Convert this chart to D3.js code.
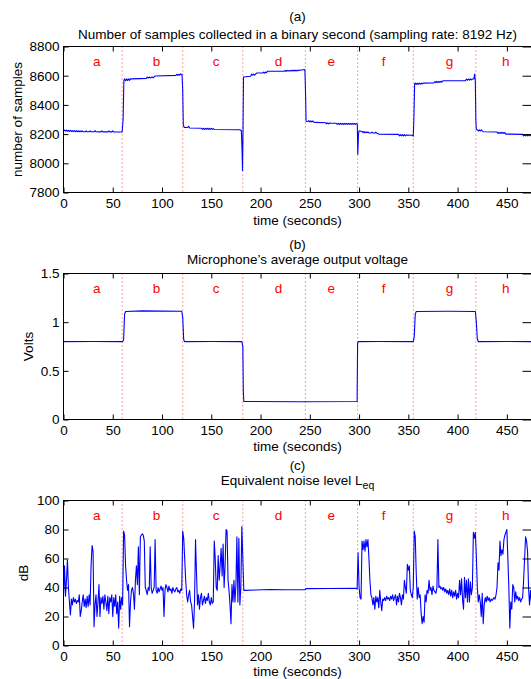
<!DOCTYPE html>
<html>
<head>
<meta charset="utf-8">
<script src="https://cdn.jsdelivr.net/npm/d3@7"></script>
<style>
  body { margin: 0; background: #fff; }
  svg text { font-family: "Liberation Sans", Arial, Helvetica, sans-serif; font-size: 13.5px; fill: #000; }
</style>
</head>
<body>
<svg id="chart" width="531" height="679"></svg>
<script>
// ---- data ----
const xTicks = [0, 50, 100, 150, 200, 250, 300, 350, 400, 450];
const regionEdges = [59.5, 121, 182, 245.5, 298.5, 355, 418.5];
const regionLetters = ["a", "b", "c", "d", "e", "f", "g", "h"];
const letterPos = [30, 90.5, 151.5, 214.5, 268, 323, 388, 445];

const samplesTicks = [7800, 8000, 8200, 8400, 8600, 8800];
const voltTicks = [0, 0.5, 1, 1.5];
const dbTicks = [0, 20, 40, 60, 80, 100];

// (a) samples per binary second, [time, count]
const samplesData = [
  [0,8222],[1,8228],[2,8221],[3,8227],[4,8219],[5,8226],[6,8218],[7,8225],[8,8218],[9,8224],
  [10,8217],[11,8224],[12,8217],[13,8223],[14,8216],[15,8223],[16,8216],[17,8222],[18,8216],[19,8222],
  [20,8216],[22,8216],[23,8222],[24,8216],[26,8216],[27,8222],[28,8216],[31,8216],[32,8223],[33,8216],
  [38,8215],[39,8222],[40,8215],[45,8215],[46,8222],[47,8215],[49,8215],[50,8222],[51,8214],[59.5,8214],
  [60.5,8300],[61.3,8565],[62,8578],[63,8566],[64,8578],[65,8567],[66,8578],[67,8568],[68,8578],[70,8578],
  [84,8582],[85,8591],[86,8584],[87,8591],[88,8585],[90,8591],[91,8586],[92,8592],[93,8598],[114,8602],
  [115,8610],[116,8602],[117,8610],[118,8604],[119,8612],[120.3,8606],[121,8500],[121.6,8262],[122.5,8246],[126,8245],
  [127,8254],[128,8242],[140,8240],[141,8232],[142,8240],[143,8232],[144,8240],[145,8232],[146,8240],[147,8232],
  [148,8240],[149,8232],[150,8240],[151,8232],[152,8238],[153,8232],[179,8230],[180.5,8223],[181.2,8100],[181.7,7950],
  [182.3,8300],[182.7,8591],[190,8596],[191,8611],[192,8603],[193,8611],[194,8604],[195,8611],[196,8618],[202,8618],
  [203,8625],[204,8618],[205,8625],[206,8620],[207,8630],[224,8630],[225,8637],[226,8630],[227,8637],[228,8631],
  [229,8637],[230,8631],[231,8637],[232,8632],[233,8638],[234,8632],[235,8638],[236,8632],[237,8638],[238,8633],
  [239,8639],[240,8637],[245,8642],[245.6,8500],[246.2,8288],[248,8286],[249,8292],[250,8284],[251,8291],[252,8283],
  [253,8290],[254,8282],[256,8280],[266,8278],[267,8270],[268,8277],[269,8270],[270,8276],[271,8274],[277,8274],
  [278,8267],[279,8274],[280,8267],[281,8274],[282,8267],[283,8274],[284,8267],[285,8274],[286,8267],[287,8274],
  [288,8267],[289,8274],[290,8267],[291,8274],[292,8267],[293,8274],[294,8267],[295,8274],[296,8267],[297,8273],
  [298.2,8268],[298.7,8062],[299.4,8200],[300,8223],[303,8218],[304,8210],[305,8217],[306,8209],[307,8216],[308,8209],
  [309,8215],[310,8208],[312,8208],[313,8214],[314,8208],[316,8207],[317,8213],[318,8206],[320,8200],[340,8198],
  [341,8188],[342,8196],[343,8188],[344,8196],[345,8188],[346,8196],[347,8188],[348,8194],[354,8192],[355,8186],
  [355.6,8300],[356.4,8545],[357,8549],[358,8540],[359,8549],[360,8541],[361,8549],[362,8542],[363,8549],[364,8543],
  [365,8549],[376,8550],[377,8560],[378,8553],[379,8561],[380,8553],[381,8561],[382,8554],[383,8562],[384,8555],
  [385,8565],[408,8566],[409,8577],[410,8569],[411,8577],[412,8570],[413,8578],[414,8571],[415,8577],[416.5,8578],
  [417.3,8611],[418,8560],[418.5,8300],[419,8232],[420,8230],[421,8221],[422,8229],[423,8221],[424,8229],[425,8222],
  [426,8216],[440,8214],[441,8205],[442,8212],[443,8205],[444,8212],[445,8205],[446,8212],[447,8205],[448,8211],
  [449,8200],[466,8198],[467,8188],[468,8196],[469,8188],[470,8196],[471,8188],[472,8196],[473,8188],[474,8195],
  [475,8188],[476,8195]
];

// (b) average microphone voltage, [time, volts]
const voltageData = [
  [0,0.80],[30,0.801],[60,0.80],[61,0.82],[62,1.08],[63,1.11],[80,1.116],[100,1.113],[120,1.112],[121,1.05],
  [122,0.82],[123,0.80],[150,0.802],[181,0.80],[182,0.75],[182.5,0.30],[183,0.185],[240,0.183],[298,0.185],[298.5,0.78],
  [299,0.80],[320,0.802],[355,0.80],[356,0.85],[357,1.08],[358,1.11],[390,1.112],[418,1.11],[419,1.00],[420,0.83],
  [421,0.80],[450,0.801],[476,0.80]
];

// (c) Leq in dB, one value per second
const leqStartA = 0;
const leqA = [
  35,55,34,45,59,40,30,21,32,28, 33,30,32,29,31,30,35,20,24,30,
  35,27,32,26,34,27,35,28,55,69, 65,13,28,35,20,30,42,20,33,29,
  34,25,35,30,24,34,22,33,30,35, 20,33,27,35,22,30,12,34,25,33,
  28,
  79,76,55,45,38,42,13,30,38,40, 36,25,45,55,42,68,35,75,76,77,
  76,72,40,38,35,40,38,68,40,36, 38,40,73,38,36,40,37,39,41,38,
  40,20,38,42,40,37,41,38,39,36, 40,38,37,39,40,37,38,36,39,38,
  79,
  74,60,45,35,30,35,38,30,28,20, 12,30,73,50,28,35,25,33,36,28,
  31,34,29,33,31,36,30,28,33,29, 30,72,60,40,38,62,45,55,67,48,
  70,40,55,80,79,45,38,28,15,42, 30,45,30,42,75,30,74,28,40,82,
  60,38
];
const leqFlat = [[195,38.3],[210,38.6],[225,38.5],[245,38.4],[246,39.2],[270,39.3],[297,39.4]];
const leqStartB = 298;
const leqB = [
  39,64,40,33,32,72,66,72,65,73, 68,73,60,45,35,33,28,33,25,34,
  30,33,26,38,30,24,32,31,33,31, 34,32,33,31,34,32,35,31,33,35,
  28,34,30,36,33,28,35,32,45,40, 36,56,52,55,38,35,33,40,
  79,75,50,32,40,33,35,22,15,20, 16,35,30,38,36,45,38,40,35,41,
  38,37,36,40,73,40,41,39,40,38, 40,37,39,36,38,35,39,34,38,33,
  37,34,38,32,36,33,45,35,46,32, 25,47,33,45,30,46,30,44,35,40,
  78,74,78,62,
  40,30,35,30,20,36,15,28,33,30, 34,31,33,30,32,31,32,33,32,35,
  40,57,52,72,62,66,63,73,76,78, 80,60,40,12,30,25,42,40,30,37,
  32,34,31,33,30,32,33,45,60,75, 72,65,40,28,38,30
];
const leqData = leqA.map((v, i) => [leqStartA + i, v])
  .concat(leqFlat)
  .concat(leqB.map((v, i) => [leqStartB + i, v]));

// ---- drawing ----
const svg = d3.select("#chart");
const x = d3.scaleLinear().domain([0, 475]).range([63.5, 531.5]);
const xRight = 531.5;

const panels = [
  { top: 46.5, bottom: 192.5, domain: [7800, 8800], ticks: samplesTicks, fmt: d3.format("d"),
    data: samplesData, tag: "(a)", title: "Number of samples collected in a binary second (sampling rate: 8192 Hz)",
    tagY: 20.5, titleY: 38.5, xlabelDy: 32, ylabel: "number of samples", ylabelX: 22 },
  { top: 273.5, bottom: 419.5, domain: [0, 1.5], ticks: voltTicks, fmt: d => String(d),
    data: voltageData, tag: "(b)", title: "Microphone\u2019s average output voltage",
    tagY: 248.5, titleY: 263.5, xlabelDy: 31.5, ylabel: "Volts", ylabelX: 33 },
  { top: 500.5, bottom: 645.5, domain: [0, 100], ticks: dbTicks, fmt: d3.format("d"),
    data: leqData, tag: "(c)", title: "Equivalent noise level L", sub: "eq",
    tagY: 470, titleY: 484.5, xlabelDy: 30, ylabel: "dB", ylabelX: 28 }
];

panels.forEach((p, k) => {
  const y = d3.scaleLinear().domain(p.domain).range([p.bottom, p.top]);
  const g = svg.append("g");

  g.append("clipPath").attr("id", "clip" + k)
    .append("rect").attr("x", x(0)).attr("y", p.top).attr("width", xRight - x(0)).attr("height", p.bottom - p.top);

  // dotted region separators
  g.selectAll("line.sep").data(regionEdges).join("line")
    .attr("class", "sep")
    .attr("x1", d => x(d)).attr("x2", d => x(d))
    .attr("y1", p.top).attr("y2", p.bottom)
    .attr("stroke", "#ff4040").attr("stroke-width", 1)
    .attr("stroke-dasharray", "1,3");

  // region letters
  g.selectAll("text.letter").data(regionLetters).join("text")
    .attr("class", "letter")
    .attr("x", (d, i) => x(letterPos[i]))
    .attr("y", p.top + 19.5)
    .style("fill", "#ff0000")
    .text(d => d);

  // data line
  const line = d3.line().x(d => x(d[0])).y(d => y(d[1]));
  g.append("path").datum(p.data)
    .attr("clip-path", `url(#clip${k})`)
    .attr("d", line)
    .attr("fill", "none")
    .attr("stroke", "#0000ff")
    .attr("stroke-width", 1.1)
    .attr("stroke-linejoin", "round");

  // axes with inward ticks
  g.append("g").attr("transform", `translate(0,${p.bottom})`)
    .call(d3.axisBottom(x).tickValues(xTicks).tickSizeInner(-5).tickSizeOuter(0).tickFormat(d3.format("d")))
    .call(a => a.select(".domain").remove())
    .call(a => a.selectAll("text").attr("y", 15).attr("dy", null));

  g.append("g").attr("transform", `translate(0,${p.top})`)
    .call(d3.axisTop(x).tickValues(xTicks).tickSizeInner(-5).tickSizeOuter(0).tickFormat(""))
    .call(a => a.select(".domain").remove());

  g.append("g").attr("transform", `translate(${x(0)},0)`)
    .call(d3.axisLeft(y).tickValues(p.ticks).tickSizeInner(-5).tickSizeOuter(0).tickFormat(p.fmt))
    .call(a => a.select(".domain").remove())
    .call(a => a.selectAll("text").attr("x", -4));

  g.append("g").attr("transform", `translate(${xRight},0)`)
    .call(d3.axisRight(y).tickValues(p.ticks).tickSizeInner(-9).tickSizeOuter(0).tickFormat(""))
    .call(a => a.select(".domain").remove());

  g.append("rect")
    .attr("x", x(0)).attr("y", p.top)
    .attr("width", xRight - x(0)).attr("height", p.bottom - p.top)
    .attr("fill", "none").attr("stroke", "#000").attr("stroke-width", 1);

  // titles and labels
  g.append("text").attr("x", 297.5).attr("y", p.tagY).attr("text-anchor", "middle").text(p.tag);
  const t = g.append("text").attr("x", 297.5).attr("y", p.titleY).attr("text-anchor", "middle").text(p.title);
  if (p.sub) t.append("tspan").attr("dy", 4).style("font-size", "10.5px").text(p.sub);

  g.append("text").attr("x", 297.5).attr("y", p.bottom + p.xlabelDy).attr("text-anchor", "middle").text("time (seconds)");

  g.append("text")
    .attr("transform", `translate(${p.ylabelX},${(p.top + p.bottom) / 2}) rotate(-90)`)
    .attr("text-anchor", "middle")
    .text(p.ylabel);
});
</script>
</body>
</html>
